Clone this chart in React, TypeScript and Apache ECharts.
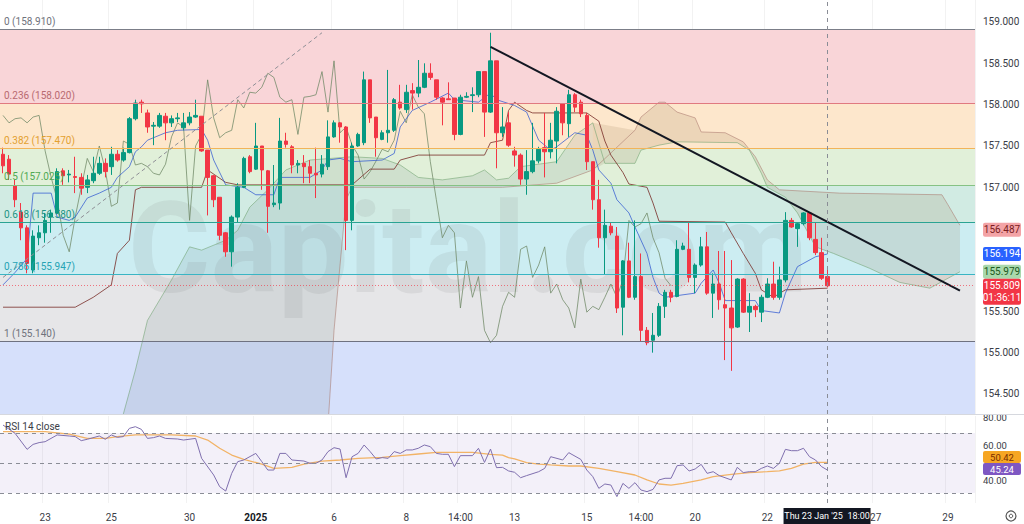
import React, { useEffect, useRef } from 'react';
import * as echarts from 'echarts';

// ---------- DATA ----------
// 4H candles [open, close, low, high]
const candles: number[][] = [
  [157.40,157.26,157.17,157.48],[157.34,157.16,157.09,157.39],[157.02,156.85,156.76,157.09],[156.70,156.51,156.36,156.81],
  [156.51,156.08,155.96,156.54],[156.00,156.41,155.96,156.48],[156.39,156.45,156.30,156.54],[156.45,156.60,156.33,156.69],
  [156.64,156.69,156.45,156.73],[156.69,157.19,156.68,157.23],[157.20,157.14,157.03,157.23],[157.15,157.16,157.06,157.21],
  [157.13,157.12,156.93,157.37],[157.12,156.99,156.91,157.17],[157.00,157.09,156.93,157.15],[157.08,157.17,157.05,157.37],
  [157.17,157.29,157.15,157.37],[157.29,157.19,157.12,157.35],[157.25,157.40,157.15,157.49],[157.40,157.33,157.31,157.45],
  [157.33,157.42,157.31,157.48],[157.42,157.83,157.41,157.85],[157.83,158.02,157.81,158.06],[158.03,158.01,157.90,158.06],
  [157.90,157.73,157.66,157.94],[157.74,157.75,157.51,157.79],[157.74,157.87,157.72,157.90],[157.86,157.78,157.57,157.90],
  [157.78,157.83,157.73,157.87],[157.83,157.84,157.79,157.90],[157.72,157.78,157.69,157.90],[157.78,157.85,157.75,157.91],
  [157.85,157.87,157.84,158.06],[157.86,157.44,157.43,157.86],[157.45,157.12,156.66,157.45],[157.14,156.85,156.76,157.15],
  [156.88,156.42,156.36,156.88],[156.45,156.22,156.16,156.46],[156.22,156.64,156.04,156.66],[156.64,157.00,156.57,157.05],
  [157.00,157.35,156.99,157.37],[157.37,157.19,157.17,157.39],[157.22,157.50,157.21,157.78],[157.50,157.21,156.97,157.50],
  [157.20,156.77,156.45,157.21],[156.79,156.81,156.76,157.27],[156.81,157.56,156.73,157.84],[157.56,157.52,157.48,157.66],
  [157.49,157.27,157.17,157.51],[157.27,157.29,157.17,157.33],[157.29,157.25,157.05,157.39],[157.25,157.17,157.05,157.33],
  [157.17,157.15,156.87,157.48],[157.16,157.28,157.12,157.39],[157.25,157.61,157.21,157.81],[157.61,157.78,157.60,157.81],
  [157.78,157.73,157.54,157.79],[157.73,156.60,156.24,157.74],[156.60,157.50,156.48,157.54],[157.50,157.64,157.49,157.66],
  [157.54,158.30,157.51,158.40],[158.30,157.84,157.78,158.30],[157.85,157.60,157.37,157.85],[157.58,157.66,157.57,157.69],
  [157.66,157.69,157.54,158.42],[157.69,158.06,157.67,158.08],[158.03,157.96,157.94,158.24],[157.94,158.15,157.90,158.24],
  [158.17,158.14,157.94,158.26],[158.14,158.21,158.09,158.54],[158.21,158.38,158.20,158.50],[158.38,158.33,158.30,158.50],
  [158.30,158.09,158.06,158.30],[158.08,158.03,157.75,158.09],[158.07,158.06,158.06,158.27],[158.08,157.64,157.57,158.08],
  [157.64,158.09,157.63,158.12],[158.09,158.10,158.08,158.15],[158.11,158.12,157.91,158.21],[158.12,158.40,158.09,158.40],
  [158.40,157.91,157.61,158.40],[157.91,158.53,157.90,158.87],[158.53,157.66,157.23,158.53],[157.66,157.73,157.61,157.97],
  [157.78,157.51,157.49,157.91],[157.44,157.39,157.25,157.49],[157.39,157.10,157.03,157.41],[157.10,157.19,156.91,157.45],
  [157.19,157.32,157.17,157.78],[157.32,157.46,157.29,157.49],[157.48,157.43,157.12,157.90],[157.43,157.57,157.35,157.78],
  [157.56,157.92,157.29,157.97],[158.01,157.78,157.63,158.02],[157.77,158.12,157.61,158.18],[158.12,157.97,157.91,158.14],
  [158.03,157.89,157.85,158.06],[157.87,157.31,157.21,157.90],[157.31,156.85,156.73,157.31],[156.85,156.39,156.27,157.09],
  [156.39,156.54,155.94,156.73],[156.53,156.45,156.42,156.57],[156.41,155.54,155.48,156.52],[155.55,156.11,155.21,156.12],
  [156.11,155.67,155.66,156.33],[155.67,155.92,155.64,156.60],[155.92,155.27,155.13,156.20],[155.27,155.12,155.09,155.31],
  [155.15,155.21,155.00,155.48],[155.21,155.56,155.19,155.60],[155.56,155.73,155.42,155.76],[155.73,155.67,155.61,155.76],
  [155.68,156.25,155.67,156.36],[156.25,156.29,156.24,156.33],[156.25,155.91,155.85,156.57],[155.91,156.06,155.72,156.08],
  [156.06,156.28,156.04,156.40],[156.28,155.72,155.70,156.46],[155.72,155.83,155.42,155.96],[155.83,155.64,155.52,156.23],
  [155.58,155.54,154.91,156.23],[155.54,155.30,154.78,156.12],[155.31,155.89,155.30,155.90],[155.89,155.49,155.48,155.90],
  [155.49,155.56,155.25,155.72],[155.56,155.52,155.43,155.58],[155.49,155.67,155.37,155.70],[155.67,155.83,155.66,155.90],
  [155.83,155.67,155.64,156.10],[155.67,155.88,155.64,156.04],[155.88,156.60,155.85,156.70],[156.60,156.52,156.51,156.63],
  [156.50,156.56,156.28,156.58],[156.56,156.69,156.54,156.70],[156.69,156.39,156.36,156.70],[156.37,156.21,156.18,156.58],
  [156.21,155.90,155.88,156.39],[155.92,155.809,155.79,156.04],
];

// Ichimoku lines: [barIndex, price]
const conversionLine = [[0,155.82],[2,155.97],[4,156.14],[5,156.93],[8,156.93],[9,156.64],[11,156.60],[12,156.64],[14,156.87],[16,156.93],[18,157.00],[19,157.12],[21,157.25],[22,157.43],[23,157.49],[24,157.57],[27,157.66],[29,157.69],[33,157.70],[34,157.57],[35,157.33],[37,157.03],[40,157.00],[42,156.91],[45,156.91],[46,157.12],[51,157.12],[53,157.21],[54,157.33],[56,157.35],[58,157.31],[63,157.33],[65,157.41],[66,157.73],[68,157.93],[71,158.03],[74,158.14],[75,158.06],[79,158.03],[81,158.14],[82,158.06],[85,157.99],[87,157.91],[89,157.57],[91,157.45],[92,157.49],[95,157.66],[97,157.63],[98,157.45],[99,157.21],[101,157.05],[102,156.85],[104,156.69],[105,156.52],[107,156.20],[108,155.91],[109,155.72],[110,155.67],[115,155.72],[116,155.84],[118,156.00],[119,155.84],[120,155.63],[125,155.63],[126,155.51],[129,155.48],[130,155.72],[131,155.88],[132,156.04],[135,156.16],[137,156.194]];
const baseLine = [[0,155.55],[12,155.55],[15,155.67],[18,155.82],[19,156.20],[21,156.36],[22,156.97],[23,157.00],[33,157.00],[34,157.21],[37,157.06],[39,157.03],[58,157.03],[61,157.22],[65,157.22],[66,157.33],[69,157.39],[80,157.39],[81,157.54],[83,157.57],[84,157.93],[85,158.03],[87,157.93],[88,157.90],[97,157.90],[99,157.80],[100,157.56],[101,157.39],[103,157.18],[104,157.04],[107,157.00],[108,156.81],[109,156.59],[120,156.58],[121,156.45],[123,156.20],[125,155.96],[126,155.76],[128,155.67],[130,155.76],[137,155.78]];
const cloudBullUpper = [[19,153.94],[20,154.26],[22,154.79],[24,155.39],[28,155.88],[31,156.28],[33,156.24],[37,156.36],[39,156.48],[41,156.76],[44,156.97],[47,157.21],[51,157.33],[58,157.37],[63,157.35],[66,157.27],[69,157.12],[73,157.09],[78,157.14],[80,157.21],[82,157.09],[84,157.11],[86,157.25],[92,157.31],[95,157.63],[98,157.78]];
const cloudBullLower = [[19,152.97],[53,152.97],[55,155.27],[57,156.85],[58,157.00],[67,157.00],[83,157.00],[92,157.05],[98,157.21]];
const cloudBearUpper = [[98,157.78],[105,157.69],[106,157.85],[109,158.03],[110,158.03],[112,157.91],[115,157.84],[116,157.67],[120,157.66],[123,157.55],[125,157.37],[127,157.09],[129,156.97],[139,156.93],[156,156.91],[157,156.79],[159,156.54]];
const cloudBearLower = [[98,157.21],[100,157.29],[105,157.29],[106,157.45],[109,157.51],[112,157.55],[122,157.54],[124,157.45],[126,157.17],[127,157.00],[130,156.88],[132,156.69],[135,156.28],[138,156.20],[144,156.02],[149,155.85],[154,155.78],[159,155.979]];
const laggingShift = 26;

// RSI 14 and its moving average: [barIndex, value]
const rsiPoints = [[0,75.3],[2,69.8],[4,59.1],[5,62.4],[6,63.6],[7,64.2],[9,68.7],[11,68.0],[12,67.6],[13,64.9],[14,65.8],[16,68.0],[17,65.8],[18,68.7],[19,67.1],[20,67.6],[21,73.1],[22,74.2],[23,72.4],[24,66.4],[25,66.9],[26,68.0],[27,66.4],[29,66.0],[30,65.3],[32,66.4],[33,53.1],[35,42.0],[36,34.2],[37,31.3],[38,43.1],[39,50.9],[40,52.0],[42,56.4],[43,50.9],[44,45.3],[45,45.3],[46,56.4],[47,56.4],[48,52.0],[50,51.3],[51,49.8],[52,49.8],[53,52.0],[54,57.6],[55,60.2],[56,59.3],[57,40.2],[58,54.2],[59,56.4],[60,62.0],[61,57.6],[62,52.7],[63,53.6],[64,53.1],[65,57.6],[66,56.4],[67,58.7],[68,58.7],[69,59.8],[70,62.0],[71,60.9],[72,56.4],[73,55.8],[74,55.8],[75,47.6],[76,54.9],[78,54.9],[79,59.8],[80,50.4],[81,59.3],[82,46.9],[83,47.1],[84,44.7],[85,43.8],[86,40.2],[87,41.6],[89,44.2],[90,46.4],[91,54.2],[93,52.0],[94,56.9],[96,52.4],[97,45.3],[98,40.9],[99,33.1],[100,36.0],[101,35.3],[102,27.6],[103,36.4],[104,33.1],[105,36.9],[106,32.0],[107,30.9],[108,32.4],[109,38.7],[110,39.8],[111,39.8],[112,48.2],[113,48.7],[114,44.7],[115,46.0],[116,49.1],[117,43.1],[118,44.2],[119,41.6],[121,38.7],[122,47.1],[123,43.6],[124,44.2],[125,44.2],[126,46.4],[127,48.0],[128,46.4],[129,49.8],[130,59.1],[131,58.2],[132,58.2],[133,59.8],[134,54.2],[135,52.0],[136,47.6],[137,45.24]];
const rsiMaPoints = [[0,70.9],[3,70.9],[7,70.9],[11,69.3],[14,66.4],[17,66.4],[19,67.6],[22,68.7],[24,68.7],[28,68.7],[32,68.0],[34,65.3],[36,59.8],[38,55.3],[40,52.4],[43,49.3],[45,46.4],[48,47.1],[50,49.3],[53,51.3],[56,52.0],[59,53.1],[63,53.8],[66,54.9],[69,56.0],[72,57.1],[75,57.1],[78,57.1],[81,55.8],[83,55.3],[84,53.6],[85,52.7],[87,50.2],[89,49.3],[91,48.7],[94,48.0],[96,48.0],[99,46.4],[102,44.2],[105,42.0],[107,38.7],[109,36.0],[111,35.3],[113,36.4],[116,38.7],[118,40.9],[121,42.4],[124,43.6],[127,44.2],[129,44.7],[131,46.4],[133,49.3],[135,50.4],[137,50.42]];
const rsiLevels = [70, 50, 30];

// Fibonacci retracement
const fibRatios = ['0', '0.236', '0.382', '0.5', '0.618', '0.786', '1'];
const fibLevels = [158.910, 158.020, 157.470, 157.025, 156.580, 155.947, 155.140];
const fibExtension = 152.810;

// trend lines: [barIndex, price]
const trendLine = [[81, 158.70], [159, 155.75]];
const fibTrendLine = [[0, 155.91], [53, 158.87]];
const lastPrice = 155.809;
const countdown = '01:36:11';
const cursorBar = 137;
const cursorLabel = "Thu 23 Jan '25  18:00";

// axis ticks
const priceTicks = [154.5, 155, 155.5, 156, 156.5, 157, 157.5, 158, 158.5, 159];
const rsiTicks = [80, 60, 40];
const xTickIdx = [7, 18, 31, 42, 55, 67, 76, 85, 97, 106, 115, 127, 145, 157];
const xTickText = ['23', '25', '30', '2025', '6', '8', '14:00', '13', '15', '14:00', '20', '22', '27', '29'];
const barCount = 162;

// right-axis value tags
const priceTags = [156.487, 156.194, 155.979];
const rsiTags = [50.42, 45.24];

// ---------- STYLES ----------
const FONT = 'Roboto, Arial, sans-serif';
const bandColors = ['#f9d5d8', '#fde7cc', '#e1f0d9', '#d1ebe3', '#ccedf2', '#e6e6e8', '#d6e0fb'];
const fibLineColors = ['#7b7e88', '#e07a80', '#f2b459', '#86c284', '#2aa393', '#3ab5c4', '#6f7280'];
const fibLabelColors = ['#6f727c', '#b86a70', '#e3a030', '#4fa852', '#1c9484', '#26a3b4', '#6f727c'];
const priceTagStyles = [
  { bg: '#f3a3a6', fg: '#7a1d22' },
  { bg: '#2962ff', fg: '#ffffff' },
  { bg: '#a9d8ac', fg: '#1d5a22' },
];
const rsiTagStyles = [
  { bg: '#f6a623', fg: '#7a2e00' },
  { bg: '#7e57c2', fg: '#ffffff' },
];
const rsiTagCenters = [457, 469];

const YMIN = 154.258, YMAX = 159.266;
const RMIN = 23.33, RMAX = 81.33;

export default function App() {
  const ref = useRef<HTMLDivElement>(null);

  useEffect(() => {
    const el = ref.current!;
    const chart = echarts.init(el, null, { renderer: 'svg' });
    const cats = Array.from({ length: barCount }, (_, i) => String(i));
    const tickSet = new Set(xTickIdx);
    const closes = candles.map((c) => c[1]);
    const lagging = closes.slice(laggingShift).map((c, i) => [i, c]);

    const cloud = (upper: number[][], lower: number[][], fill: string) => ({
      type: 'custom',
      xAxisIndex: 0,
      yAxisIndex: 0,
      z: 1,
      silent: true,
      clip: true,
      data: [upper[0]],
      renderItem: (_p: any, api: any) => {
        const pts = upper.map((p) => api.coord(p)).concat(lower.slice().reverse().map((p) => api.coord(p)));
        return { type: 'polygon', shape: { points: pts }, style: { fill, stroke: 'none' } };
      },
    });

    const thinLine = (data: number[][], color: string, width = 1, z = 3, xi = 0) => ({
      type: 'line',
      xAxisIndex: xi,
      yAxisIndex: xi,
      data,
      z,
      silent: true,
      symbol: 'none',
      lineStyle: { color, width },
    });

    const option: any = {
      animation: false,
      textStyle: { fontFamily: FONT },
      grid: [
        { left: 0, right: 49, top: 0, height: 414 },
        { left: 0, right: 49, top: 416, height: 87 },
      ],
      xAxis: [
        {
          type: 'category', gridIndex: 0, data: cats, boundaryGap: true,
          axisLine: { show: false }, axisTick: { show: false }, axisLabel: { show: false },
          splitLine: { show: true, interval: (i: number) => tickSet.has(i), lineStyle: { color: 'rgba(0,0,0,0.05)' } },
        },
        {
          type: 'category', gridIndex: 1, data: cats, boundaryGap: true,
          axisLine: { show: false }, axisTick: { show: false },
          splitLine: { show: true, interval: (i: number) => tickSet.has(i), lineStyle: { color: 'rgba(0,0,0,0.05)' } },
          axisLabel: {
            interval: (i: number) => tickSet.has(i),
            margin: 9,
            color: '#3a3d47',
            fontSize: 10,
            formatter: (_v: string, i: number) => {
              const k = xTickIdx.indexOf(i);
              const t = k >= 0 ? xTickText[k] : '';
              return t === '2025' ? '{b|2025}' : t;
            },
            rich: { b: { fontWeight: 'bold', fontSize: 10, color: '#131722' } },
          },
        },
      ],
      yAxis: [
        {
          type: 'value', gridIndex: 0, position: 'right', min: YMIN, max: YMAX,
          splitLine: { show: false }, axisLine: { show: false }, axisTick: { show: false },
          axisLabel: { customValues: priceTicks, formatter: (v: number) => v.toFixed(3), color: '#3a3d47', fontSize: 10, margin: 8 },
        },
        {
          type: 'value', gridIndex: 1, position: 'right', min: RMIN, max: RMAX,
          splitLine: { show: false }, axisLine: { show: false }, axisTick: { show: false },
          axisLabel: {
            customValues: rsiTicks, color: '#3a3d47', fontSize: 9.5, margin: 8,
            formatter: (v: number) => (v === 60 ? `{hi|${v.toFixed(2)}}` : v === 40 ? `{lo|${v.toFixed(2)}}` : v.toFixed(2)),
            rich: {
              hi: { fontSize: 9.5, color: '#3a3d47', padding: [0, 0, 5, 0] },
              lo: { fontSize: 9.5, color: '#3a3d47', padding: [5, 0, 0, 0] },
            },
          },
        },
      ],
      series: [
        {
          type: 'line', xAxisIndex: 0, yAxisIndex: 0, data: [], z: 0, silent: true,
          markArea: {
            silent: true,
            data: fibLevels.map((v, k) => [
              { yAxis: v, itemStyle: { color: bandColors[k], opacity: 1 } },
              { yAxis: k < fibLevels.length - 1 ? fibLevels[k + 1] : fibExtension },
            ]),
          },
          markLine: {
            silent: true, symbol: ['none', 'none'],
            data: fibLevels.map((v, k) => ({
              yAxis: v,
              lineStyle: { color: fibLineColors[k], width: 1.2, type: 'solid' },
              label: {
                show: true, position: 'insideStartTop', distance: [4, 3],
                formatter: `${fibRatios[k]} (${v.toFixed(3)})`, color: fibLabelColors[k], fontSize: 10,
              },
            })),
          },
        },
        cloud(cloudBullUpper, cloudBullLower, 'rgba(80,115,120,0.12)'),
        cloud(cloudBearUpper, cloudBearLower, 'rgba(150,118,80,0.16)'),
        thinLine(cloudBullUpper.concat(cloudBearLower.slice(1)), 'rgba(110,160,110,0.55)', 1, 2),
        thinLine(cloudBullLower.concat(cloudBearUpper.slice(1)), 'rgba(170,120,110,0.55)', 1, 2),
        thinLine(lagging, 'rgba(110,135,100,0.75)', 1, 3),
        thinLine(baseLine, 'rgba(120,45,40,0.8)', 1, 3),
        thinLine(conversionLine, 'rgba(50,90,210,0.75)', 1, 3),
        {
          type: 'candlestick', xAxisIndex: 0, yAxisIndex: 0, data: candles, z: 4, barWidth: 4,
          itemStyle: {
            color: '#089981', color0: '#f23645', borderColor: '#089981', borderColor0: '#f23645',
            borderColorDoji: '#089981', borderWidth: 1,
          },
          markLine: {
            silent: true, symbol: ['none', 'none'], label: { show: false },
            data: [
              [{ coord: trendLine[0], lineStyle: { color: '#131722', width: 2, type: 'solid' } }, { coord: trendLine[1] }],
              [{ coord: fibTrendLine[0], lineStyle: { color: '#8f8f96', width: 1, type: [4, 3] } }, { coord: fibTrendLine[1] }],
              { yAxis: lastPrice, lineStyle: { color: 'rgba(242,54,69,0.65)', width: 1, type: [1, 2] } },
              { xAxis: cursorBar, lineStyle: { color: '#8a8d96', width: 1, type: [4, 4] } },
            ],
          },
        },
        {
          type: 'line', xAxisIndex: 1, yAxisIndex: 1, data: [], z: 0, silent: true,
          markArea: {
            silent: true,
            data: [[{ yAxis: rsiLevels[0], itemStyle: { color: 'rgba(126,87,194,0.09)' } }, { yAxis: rsiLevels[2] }]],
          },
          markLine: {
            silent: true, symbol: ['none', 'none'], label: { show: false },
            data: [
              ...rsiLevels.map((v) => ({ yAxis: v, lineStyle: { color: '#8a8d96', width: 1, type: [4, 4] } })),
              { xAxis: cursorBar, lineStyle: { color: '#8a8d96', width: 1, type: [4, 4] } },
            ],
          },
        },
        thinLine(rsiMaPoints, '#f2b366', 1.3, 3, 1),
        thinLine(rsiPoints, '#7f6fae', 1, 4, 1),
      ],
    };
    chart.setOption(option);

    const py = (v: number) => chart.convertToPixel({ yAxisIndex: 0 }, v) as number;
    const cx = chart.convertToPixel({ xAxisIndex: 1 }, cursorBar) as number;

    const tag = (y: number, text: string, bg: string, fg: string, h = 14, fs = 10) => [
      { type: 'rect', z: 20, silent: true, shape: { x: 983, y: y - h / 2, width: 38, height: h, r: 2 }, style: { fill: bg } },
      { type: 'text', z: 21, silent: true, x: 1002, y, style: { text, fill: fg, font: `${fs}px ${FONT}`, align: 'center', verticalAlign: 'middle' } },
    ];

    const lp = py(lastPrice);
    const graphic: any[] = [
      {
        type: 'text', z: 1, silent: true, x: 128, y: 186,
        style: { text: 'Capital.com', font: `bold 126px ${FONT}`, fill: 'rgba(105,105,110,0.11)' },
      },
      { type: 'line', z: 10, silent: true, shape: { x1: 0, y1: 414.5, x2: 1024, y2: 414.5 }, style: { stroke: '#d6d8de', lineWidth: 1 } },
      { type: 'text', z: 10, silent: true, x: 5, y: 426, style: { text: 'RSI 14 close', fill: '#3a3d47', font: `10px ${FONT}`, verticalAlign: 'middle' } },
      ...priceTags.flatMap((v, k) => tag(py(v), v.toFixed(3), priceTagStyles[k].bg, priceTagStyles[k].fg)),
      { type: 'rect', z: 20, silent: true, shape: { x: 983, y: lp - 7, width: 38, height: 26, r: 2 }, style: { fill: '#f23645' } },
      { type: 'text', z: 21, silent: true, x: 1002, y: lp, style: { text: lastPrice.toFixed(3), fill: '#fff', font: `10px ${FONT}`, align: 'center', verticalAlign: 'middle' } },
      { type: 'text', z: 21, silent: true, x: 1002, y: lp + 12, style: { text: countdown, fill: '#fff', font: `10px ${FONT}`, align: 'center', verticalAlign: 'middle' } },
      ...rsiTags.flatMap((v, k) => tag(rsiTagCenters[k], v.toFixed(2), rsiTagStyles[k].bg, rsiTagStyles[k].fg, 12, 9.5)),
      { type: 'rect', z: 20, silent: true, shape: { x: cx - 44, y: 508, width: 87, height: 16 }, style: { fill: '#131722' } },
      { type: 'text', z: 21, silent: true, x: cx - 0.5, y: 516, style: { text: cursorLabel, fill: '#fff', font: `9px ${FONT}`, align: 'center', verticalAlign: 'middle' } },
      { type: 'circle', z: 20, silent: true, shape: { cx: 1011, cy: 516, r: 5 }, style: { fill: 'none', stroke: '#555', lineWidth: 1.2 } },
      { type: 'circle', z: 20, silent: true, shape: { cx: 1011, cy: 516, r: 1.8 }, style: { fill: 'none', stroke: '#555', lineWidth: 1 } },
    ];
    chart.setOption({ graphic });

    return () => chart.dispose();
  }, []);

  return <div ref={ref} style={{ position: 'fixed', left: 0, top: 0, width: 1024, height: 524, background: '#ffffff' }} />;
}
